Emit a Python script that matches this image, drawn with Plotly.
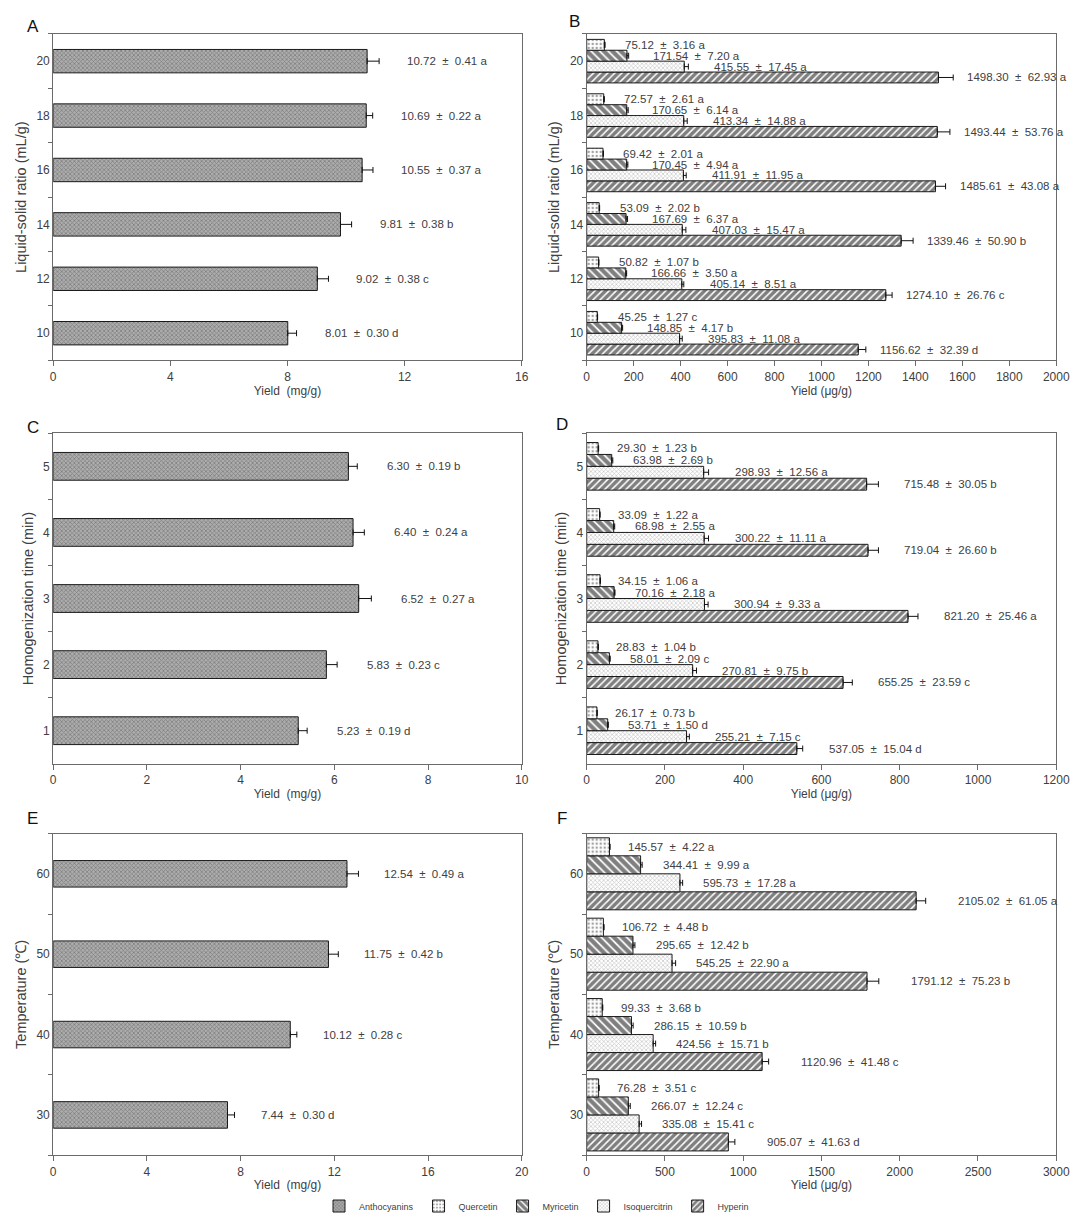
import plotly.graph_objects as go

# ------------------------- data -------------------------
ratio_cats = ["10", "12", "14", "16", "18", "20"]
time_cats = ["1", "2", "3", "4", "5"]
temp_cats = ["30", "40", "50", "60"]

# Panel A: anthocyanins vs liquid-solid ratio (mg/g)
A_anth = [8.01, 9.02, 9.81, 10.55, 10.69, 10.72]
A_anth_sd = [0.30, 0.38, 0.38, 0.37, 0.22, 0.41]
A_anth_sig = ["d", "c", "b", "a", "a", "a"]

# Panel B: flavonoids vs liquid-solid ratio (ug/g)
B_quer = [45.25, 50.82, 53.09, 69.42, 72.57, 75.12]
B_quer_sd = [1.27, 1.07, 2.02, 2.01, 2.61, 3.16]
B_quer_sig = ["c", "b", "b", "a", "a", "a"]
B_myr = [148.85, 166.66, 167.69, 170.45, 170.65, 171.54]
B_myr_sd = [4.17, 3.50, 6.37, 4.94, 6.14, 7.20]
B_myr_sig = ["b", "a", "a", "a", "a", "a"]
B_iso = [395.83, 405.14, 407.03, 411.91, 413.34, 415.55]
B_iso_sd = [11.08, 8.51, 15.47, 11.95, 14.88, 17.45]
B_iso_sig = ["a", "a", "a", "a", "a", "a"]
B_hyp = [1156.62, 1274.10, 1339.46, 1485.61, 1493.44, 1498.30]
B_hyp_sd = [32.39, 26.76, 50.90, 43.08, 53.76, 62.93]
B_hyp_sig = ["d", "c", "b", "a", "a", "a"]

# Panel C: anthocyanins vs homogenization time (mg/g)
C_anth = [5.23, 5.83, 6.52, 6.40, 6.30]
C_anth_sd = [0.19, 0.23, 0.27, 0.24, 0.19]
C_anth_sig = ["d", "c", "a", "a", "b"]

# Panel D: flavonoids vs homogenization time (ug/g)
D_quer = [26.17, 28.83, 34.15, 33.09, 29.30]
D_quer_sd = [0.73, 1.04, 1.06, 1.22, 1.23]
D_quer_sig = ["b", "b", "a", "a", "b"]
D_myr = [53.71, 58.01, 70.16, 68.98, 63.98]
D_myr_sd = [1.50, 2.09, 2.18, 2.55, 2.69]
D_myr_sig = ["d", "c", "a", "a", "b"]
D_iso = [255.21, 270.81, 300.94, 300.22, 298.93]
D_iso_sd = [7.15, 9.75, 9.33, 11.11, 12.56]
D_iso_sig = ["c", "b", "a", "a", "a"]
D_hyp = [537.05, 655.25, 821.20, 719.04, 715.48]
D_hyp_sd = [15.04, 23.59, 25.46, 26.60, 30.05]
D_hyp_sig = ["d", "c", "a", "b", "b"]

# Panel E: anthocyanins vs temperature (mg/g)
E_anth = [7.44, 10.12, 11.75, 12.54]
E_anth_sd = [0.30, 0.28, 0.42, 0.49]
E_anth_sig = ["d", "c", "b", "a"]

# Panel F: flavonoids vs temperature (ug/g)
F_quer = [76.28, 99.33, 106.72, 145.57]
F_quer_sd = [3.51, 3.68, 4.48, 4.22]
F_quer_sig = ["c", "b", "b", "a"]
F_myr = [266.07, 286.15, 295.65, 344.41]
F_myr_sd = [12.24, 10.59, 12.42, 9.99]
F_myr_sig = ["c", "b", "b", "a"]
F_iso = [335.08, 424.56, 545.25, 595.73]
F_iso_sd = [15.41, 15.71, 22.90, 17.28]
F_iso_sig = ["c", "b", "a", "a"]
F_hyp = [905.07, 1120.96, 1791.12, 2105.02]
F_hyp_sd = [41.63, 41.48, 75.23, 61.05]
F_hyp_sig = ["d", "c", "b", "a"]

series_names = ["Anthocyanins", "Quercetin", "Myricetin", "Isoquercitrin", "Hyperin"]

# ------------------------- styles -------------------------
FONT = "Liberation Sans, Arial, sans-serif"
TXT = "#404040"
W, H = 1084, 1221

STYLE = {
    "Anthocyanins": dict(color="#adadad", pattern=dict(shape="x", size=3, solidity=0.45,
                                                       fgcolor="#505050", bgcolor="#adadad")),
    "Quercetin": dict(color="white", pattern=dict(shape=".", size=4, solidity=0.3,
                                                  fgcolor="#444444", bgcolor="white")),
    "Myricetin": dict(color="white", pattern=dict(shape="\\", size=6, solidity=0.7,
                                                  fgcolor="#000000", bgcolor="white")),
    "Isoquercitrin": dict(color="white", pattern=dict(shape="x", size=3, solidity=0.4,
                                                      fgcolor="#8c8c8c", bgcolor="white")),
    "Hyperin": dict(color="white", pattern=dict(shape="/", size=5, solidity=0.7,
                                                fgcolor="#000000", bgcolor="white")),
}
RANK = {n: i for i, n in enumerate(series_names)}


def px_x(p):
    return p / W


def px_y(p):
    return 1 - p / H


left_dom = [px_x(51), px_x(527)]
right_dom = [px_x(593), px_x(1070)]
rows = [(34, 361), (434, 765), (835, 1157)]

fig = go.Figure()
annotations = []
shown = set()


def add_series(name, cats, vals, sds, sigs, k, width, offset, gap):
    xa = "x" if k == 1 else f"x{k}"
    ya = "y" if k == 1 else f"y{k}"
    st = STYLE[name]
    show = name not in shown
    shown.add(name)
    fig.add_trace(go.Bar(
        y=cats, x=vals, orientation="h", xaxis=xa, yaxis=ya,
        width=width, offset=offset, name=name, legendgroup=name,
        legendrank=RANK[name], showlegend=show, hoverinfo="skip",
        marker=dict(color=st["color"], pattern=st["pattern"],
                    line=dict(color="#1a1a1a", width=1)),
        error_x=dict(type="data", array=sds, arrayminus=[0] * len(sds),
                     symmetric=False, color="#111111", thickness=1, width=3),
    ))
    for i, (v, s, g) in enumerate(zip(vals, sds, sigs)):
        annotations.append(dict(
            x=v + s, y=i + offset + width / 2, xref=xa, yref=ya,
            text=f"{v:.2f}\u00a0 ±\u00a0 {s:.2f} {g}", showarrow=False,
            xanchor="left", yanchor="middle", xshift=gap,
            font=dict(family=FONT, size=11.5, color=TXT)))


def setup_axes(k, xdom, row, xrange, dtick, xtitle, ytitle, n):
    top, bot = row
    sx = "xaxis" if k == 1 else f"xaxis{k}"
    sy = "yaxis" if k == 1 else f"yaxis{k}"
    ya = "y" if k == 1 else f"y{k}"
    xa = "x" if k == 1 else f"x{k}"
    fig.update_layout({
        sx: dict(domain=xdom, anchor=ya, range=xrange, dtick=dtick, tick0=0,
                 showgrid=False, zeroline=False, showline=True, mirror=True,
                 linecolor="#6b6b6b", linewidth=1, ticks="outside", ticklen=5,
                 tickcolor="#6b6b6b",
                 tickfont=dict(family=FONT, size=12, color=TXT),
                 title=dict(text=xtitle, standoff=3,
                            font=dict(family=FONT, size=12, color=TXT))),
        sy: dict(domain=[px_y(bot), px_y(top)], anchor=xa, type="category",
                 range=[-0.5, n - 0.5], showgrid=False, zeroline=False,
                 showline=True, mirror=True, linecolor="#6b6b6b", linewidth=1,
                 ticks="outside", ticklen=4, tickson="boundaries", tickcolor="#6b6b6b",
                 tickfont=dict(family=FONT, size=12, color=TXT),
                 title=dict(text=ytitle, standoff=6,
                            font=dict(family=FONT, size=14.5, color=TXT))),
    })


mg = "Yield\u00a0\u00a0(mg/g)"
ug = "Yield (μg/g)"

# Panel A
add_series("Anthocyanins", ratio_cats, A_anth, A_anth_sd, A_anth_sig, 1, 0.43, -0.215, 26)
setup_axes(1, left_dom, rows[0], [0, 16], 4, mg, "Liquid-solid ratio (mL/g)", len(ratio_cats))

# Panel B
bw = 0.2
add_series("Hyperin", ratio_cats, B_hyp, B_hyp_sd, B_hyp_sig, 2, bw, -2 * bw, 12)
add_series("Isoquercitrin", ratio_cats, B_iso, B_iso_sd, B_iso_sig, 2, bw, -bw, 24)
add_series("Myricetin", ratio_cats, B_myr, B_myr_sd, B_myr_sig, 2, bw, 0, 22)
add_series("Quercetin", ratio_cats, B_quer, B_quer_sd, B_quer_sig, 2, bw, bw, 18)
setup_axes(2, right_dom, rows[0], [0, 2000], 200, ug, "Liquid-solid ratio (mL/g)", len(ratio_cats))

# Panel C
add_series("Anthocyanins", time_cats, C_anth, C_anth_sd, C_anth_sig, 3, 0.42, -0.21, 28)
setup_axes(3, left_dom, rows[1], [0, 10], 2, mg, "Homogenization time (min)", len(time_cats))

# Panel D
dw = 0.18
add_series("Hyperin", time_cats, D_hyp, D_hyp_sd, D_hyp_sig, 4, dw, -2 * dw, 24)
add_series("Isoquercitrin", time_cats, D_iso, D_iso_sd, D_iso_sig, 4, dw, -dw, 24)
add_series("Myricetin", time_cats, D_myr, D_myr_sd, D_myr_sig, 4, dw, 0, 18)
add_series("Quercetin", time_cats, D_quer, D_quer_sd, D_quer_sig, 4, dw, dw, 16)
setup_axes(4, right_dom, rows[1], [0, 1200], 200, ug, "Homogenization time (min)", len(time_cats))

# Panel E
add_series("Anthocyanins", temp_cats, E_anth, E_anth_sd, E_anth_sig, 5, 0.33, -0.165, 24)
setup_axes(5, left_dom, rows[2], [0, 20], 4, mg, "Temperature (℃)", len(temp_cats))

# Panel F
fw = 0.224
add_series("Hyperin", temp_cats, F_hyp, F_hyp_sd, F_hyp_sig, 6, fw, -2 * fw, 30)
add_series("Isoquercitrin", temp_cats, F_iso, F_iso_sd, F_iso_sig, 6, fw, -fw, 18)
add_series("Myricetin", temp_cats, F_myr, F_myr_sd, F_myr_sig, 6, fw, 0, 19)
add_series("Quercetin", temp_cats, F_quer, F_quer_sd, F_quer_sig, 6, fw, fw, 16)
setup_axes(6, right_dom, rows[2], [0, 3000], 500, ug, "Temperature (℃)", len(temp_cats))

# Panel letters
for letter, (lx, ly) in zip("ABCDEF", [(30, 27), (581, 22), (30, 428), (568, 425), (30, 820), (568, 820)]):
    annotations.append(dict(text=letter, x=px_x(lx), y=px_y(ly), xref="paper", yref="paper",
                            showarrow=False, xanchor="center", yanchor="middle",
                            font=dict(family=FONT, size=17, color="#111111")))

fig.update_layout(
    width=W, height=H, margin=dict(l=0, r=0, t=0, b=0),
    paper_bgcolor="white", plot_bgcolor="white",
    barmode="overlay",
    annotations=annotations,
    font=dict(family=FONT, size=11, color=TXT),
    legend=dict(orientation="h", x=0.5, xanchor="center", y=px_y(1208), yanchor="middle",
                font=dict(family=FONT, size=9, color=TXT), itemwidth=30,
                traceorder="normal", bgcolor="rgba(0,0,0,0)"),
    showlegend=True,
)

fig.write_html("out.html")
